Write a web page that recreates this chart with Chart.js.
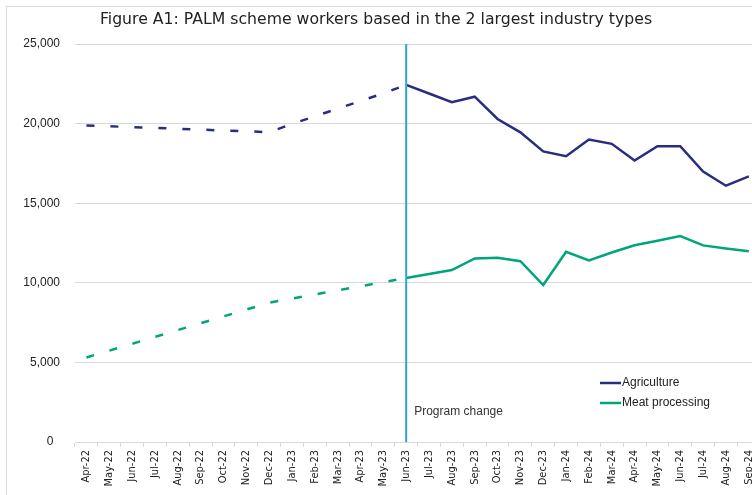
<!DOCTYPE html>
<html>
<head>
<meta charset="utf-8">
<script src="https://cdn.jsdelivr.net/npm/chart.js@4"></script>
<style>
  html, body { margin: 0; padding: 0; overflow: hidden; background: #fff; }
  #wrap { width: 765px; height: 495px; }
</style>
</head>
<body>
<div id="wrap"><canvas id="palmChart" width="765" height="495"></canvas></div>
<script>
const categories = [
	"Apr-22", "May-22", "Jun-22", "Jul-22", "Aug-22", "Sep-22", "Oct-22", "Nov-22", "Dec-22",
	"Jan-23", "Feb-23", "Mar-23", "Apr-23", "May-23", "Jun-23", "Jul-23", "Aug-23", "Sep-23",
	"Oct-23", "Nov-23", "Dec-23", "Jan-24", "Feb-24", "Mar-24", "Apr-24", "May-24", "Jun-24",
	"Jul-24", "Aug-24", "Sep-24",
];
const agriculture = [
	19880, 19830, 19780, 19730, 19680, 19620, 19570, 19520, 19460,
	19980, 20460, 20940, 21420, 21900, 22430, 21890, 21340, 21690,
	20290, 19450, 18250, 17950, 19000, 18730, 17680, 18580, 18580,
	16990, 16100, 16680,
];
const meatProcessing = [
	5310, 5740, 6170, 6600, 7030, 7460, 7890, 8320, 8750,
	9010, 9270, 9530, 9780, 10040, 10300, 10550, 10800, 11530,
	11570, 11360, 9860, 11950, 11400, 11900, 12360, 12640, 12940,
	12350, 12160, 11980,
];
const yTicks = [0, 5000, 10000, 15000, 20000, 25000];
const changeMonth = "Jun-23";
const changeLabel = "Program change";
const titleText = "Figure A1: PALM scheme workers based in the 2 largest industry types";

const changeIndex = categories.indexOf(changeMonth);
const dashBefore = (c) => (c.p0DataIndex < changeIndex ? [8, 16] : undefined);

const extras = {
	id: "extras",
	beforeDraw(chart) {
		const c = chart.ctx;
		c.save();
		c.strokeStyle = "#d9d9d9";
		c.lineWidth = 1;
		c.strokeRect(6.5, 6.5, 900, 700);
		c.restore();
	},
	afterDatasetsDraw(chart) {
		const c = chart.ctx;
		const area = chart.chartArea;
		const x = chart.scales.x.getPixelForValue(changeIndex);
		c.save();
		// program change marker
		c.strokeStyle = "#2aa6d3";
		c.lineWidth = 2;
		c.beginPath();
		c.moveTo(x, area.top);
		c.lineTo(x, area.bottom);
		c.stroke();
		c.fillStyle = "#333";
		c.font = "12px 'Liberation Sans', Arial, sans-serif";
		c.textBaseline = "middle";
		c.textAlign = "left";
		c.fillText(changeLabel, x + 8, 412);

		// title
		c.font = "15.7px 'DejaVu Sans', sans-serif";
		c.textAlign = "center";
		c.fillStyle = "#222";
		c.fillText(titleText, 376, 20);

		// legend
		c.font = "12px 'Liberation Sans', Arial, sans-serif";
		c.textAlign = "left";
		chart.data.datasets.forEach((ds, i) => {
			const y = 383 + i * 20;
			c.strokeStyle = ds.borderColor;
			c.lineWidth = 2.5;
			c.beginPath();
			c.moveTo(600, y);
			c.lineTo(621, y);
			c.stroke();
			c.fillStyle = "#222";
			c.fillText(ds.label, 622, y);
		});
		c.restore();
	},
};

const ctx = document.getElementById("palmChart").getContext("2d");
const palmChart = new Chart(ctx, {
	type: "line",
	data: {
		labels: categories,
		datasets: [
			{
				label: "Agriculture",
				data: agriculture,
				borderColor: "#2a2c80",
				borderWidth: 2.5,
				pointRadius: 0,
				tension: 0,
				fill: false,
				segment: { borderDash: dashBefore },
			},
			{
				label: "Meat processing",
				data: meatProcessing,
				borderColor: "#00a57c",
				borderWidth: 2.5,
				pointRadius: 0,
				tension: 0,
				fill: false,
				segment: { borderDash: dashBefore },
			},
		],
	},
	options: {
		responsive: false,
		animation: false,
		layout: { padding: { top: 44, left: 0, right: 0, bottom: 0 } },
		scales: {
			x: {
				offset: true,
				grid: {
					offset: true,
					drawOnChartArea: false,
					drawTicks: true,
					tickLength: 5,
					color: "#d9d9d9",
				},
				border: { color: "#d9d9d9" },
				ticks: {
					autoSkip: false,
					minRotation: 90,
					maxRotation: 90,
					padding: 3,
					color: "#222",
					font: { family: "'Liberation Sans Narrow', 'DejaVu Sans Condensed', 'Liberation Sans', sans-serif", size: 11 },
				},
				afterFit: (scale) => {
					scale.height = 53;
				},
			},
			y: {
				min: 0,
				max: 25000,
				afterBuildTicks: (scale) => {
					scale.ticks = yTicks.map((v) => ({ value: v }));
				},
				grid: { color: "#d9d9d9", drawTicks: false },
				border: { display: false },
				ticks: {
					padding: 15,
					color: "#222",
					font: { family: "'Liberation Sans', Arial, sans-serif", size: 12 },
					callback: (v) => (v === 0 ? "0  " : v.toLocaleString("en-US")),
				},
				afterFit: (scale) => {
					scale.width = 75;
				},
			},
		},
		plugins: {
			legend: { display: false },
			title: { display: false },
			tooltip: { enabled: false },
		},
	},
	plugins: [extras],
});
</script>
</body>
</html>
